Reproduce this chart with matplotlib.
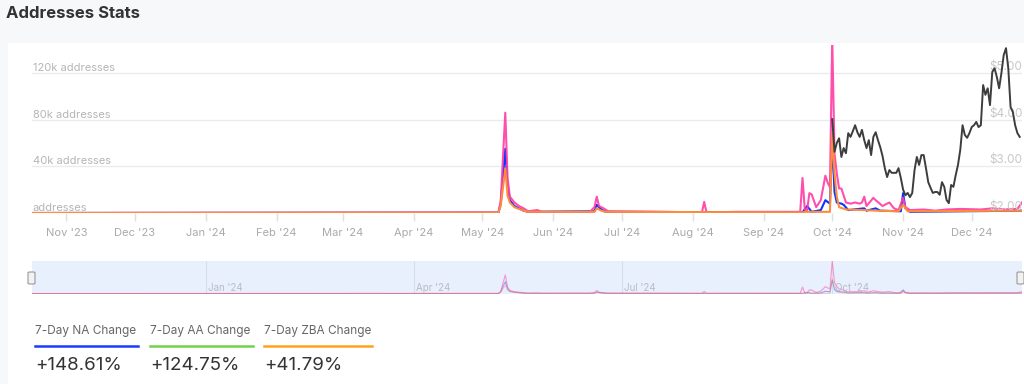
import numpy as np
import pandas as pd
import matplotlib
matplotlib.use('Agg')
import matplotlib.pyplot as plt
import matplotlib.dates as mdates
from matplotlib.patches import FancyBboxPatch

plt.rcParams['font.family'] = ['Inter', 'DejaVu Sans']

# address series (k addresses), vertices
aa_dates = ['2023-10-17', '2024-05-08', '2024-05-09', '2024-05-11', '2024-05-12', '2024-05-13',
            '2024-05-15', '2024-05-17', '2024-05-19', '2024-05-21', '2024-05-25', '2024-05-27',
            '2024-06-17', '2024-06-19', '2024-06-20', '2024-06-21', '2024-06-23', '2024-06-25',
            '2024-07-20', '2024-08-05', '2024-08-06', '2024-08-07', '2024-08-20', '2024-09-10',
            '2024-09-17', '2024-09-18', '2024-09-19', '2024-09-20', '2024-09-21', '2024-09-22',
            '2024-09-24', '2024-09-26', '2024-09-28', '2024-09-29', '2024-09-30', '2024-10-01',
            '2024-10-02', '2024-10-03', '2024-10-04', '2024-10-05', '2024-10-06', '2024-10-07',
            '2024-10-09', '2024-10-11', '2024-10-13', '2024-10-14', '2024-10-15', '2024-10-16',
            '2024-10-19', '2024-10-20', '2024-10-23', '2024-10-26', '2024-10-28', '2024-10-30',
            '2024-11-01', '2024-11-02', '2024-11-04', '2024-11-10', '2024-11-15', '2024-11-20',
            '2024-11-26', '2024-12-05', '2024-12-10', '2024-12-15', '2024-12-21', '2024-12-23']
aa_vals = [0, 0.5, 10, 86, 30, 14,
           9, 6, 4, 1.5, 2.5, 1,
           1, 5, 14, 6, 4, 1.5,
           1, 0.5, 9.5, 0.5, 1, 1,
           1, 30, 3, 2, 17, 16,
           5, 11, 32, 26, 22, 150,
           51, 34, 21, 21, 15, 9,
           8, 9, 8, 9, 14, 6,
           13, 11, 6, 9, 4, 2.5,
           13, 5, 2.5, 3, 2, 3,
           3.5, 3, 4, 3, 3.5, 9]

na_dates = ['2023-10-17', '2024-05-08', '2024-05-09', '2024-05-11', '2024-05-12', '2024-05-13',
            '2024-05-15', '2024-05-17', '2024-05-19', '2024-05-21', '2024-06-19', '2024-06-20',
            '2024-06-22', '2024-06-24', '2024-09-18', '2024-09-20', '2024-09-22', '2024-09-26',
            '2024-09-28', '2024-09-30', '2024-10-01', '2024-10-02', '2024-10-03', '2024-10-05',
            '2024-10-06', '2024-10-08', '2024-10-15', '2024-10-16', '2024-10-20', '2024-10-22',
            '2024-10-31', '2024-11-01', '2024-11-02', '2024-11-04', '2024-12-23']
na_vals = [0, 0.3, 8, 55, 22, 11,
           6, 4, 2, 1, 1.5, 7,
           3, 1, 0.5, 6, 1, 2.5,
           11, 8, 62, 18, 9, 8,
           7, 2.5, 4, 2, 4, 2,
           1.5, 17, 4, 1, 2]

zba_dates = ['2023-10-17', '2024-05-08', '2024-05-09', '2024-05-11', '2024-05-12', '2024-05-13',
             '2024-05-15', '2024-05-17', '2024-05-19', '2024-05-21', '2024-06-19', '2024-06-20',
             '2024-06-22', '2024-06-24', '2024-09-18', '2024-09-19', '2024-09-30', '2024-10-01',
             '2024-10-02', '2024-10-03', '2024-10-04', '2024-10-07', '2024-10-15', '2024-10-20',
             '2024-10-30', '2024-11-01', '2024-11-03', '2024-12-23']
zba_vals = [0, 0.3, 6, 38, 15, 9,
            5, 3.5, 2, 1, 1, 4,
            2, 1, 0.5, 1, 1, 68,
            34, 14, 5, 3, 2.5, 2,
            1.5, 7, 1.5, 2]

# token price (USD), daily from 2024-10-01
price_start = '2024-10-01'
price = [4.01, 3.31, 3.50, 3.60, 3.20, 3.39, 3.28, 3.71, 3.63, 3.75,
         3.88, 3.73, 3.63, 3.78, 3.56, 3.39, 3.56, 3.24, 3.63, 3.73,
         3.56, 3.41, 3.22, 2.96, 2.77, 2.92, 2.86, 2.86, 2.86, 2.96,
         2.75, 2.50, 2.38, 2.43, 2.34, 2.43, 2.92, 3.20, 3.03, 3.24,
         3.24, 2.96, 2.66, 2.54, 2.43, 2.45, 2.45, 2.39, 2.66, 2.56,
         2.28, 2.21, 2.60, 2.56, 2.81, 3.03, 3.35, 3.88, 3.67, 3.61,
         3.71, 3.84, 3.88, 3.95, 3.84, 3.88, 4.74, 4.53, 4.67, 4.31,
         5.02, 5.10, 4.91, 4.67, 5.00, 5.38, 5.53, 5.10, 4.27, 4.16,
         3.88, 3.71, 3.63]

y_ticks = [0, 40000, 80000, 120000]
y_labels = ['addresses', '40k addresses', '80k addresses', '120k addresses']
price_ticks = [2, 3, 4, 5]
price_labels = ['$2.00', '$3.00', '$4.00', '$5.00']
legend_names = ['7-Day NA Change', '7-Day AA Change', '7-Day ZBA Change']
legend_values = ['+148.61%', '+124.75%', '+41.79%']
legend_colors = ['#1a3cff', '#6fd34a', '#ffa11a']

PINK = '#ff3fa6'
BLUE = '#0a35ff'
ORANGE = '#ff8c3a'

x0 = pd.Timestamp('2023-10-17')
x1 = pd.Timestamp('2024-12-23')

W, H = 1024, 384
fig = plt.figure(figsize=(W / 100, H / 100), dpi=100)
fig.patch.set_facecolor('#f7f8fa')

# white card as a background axes
card = fig.add_axes([8 / W, 0, 1 - 8 / W, 1 - 43 / H], zorder=-10)
card.set_facecolor('white')
card.set_xticks([])
card.set_yticks([])
for s in card.spines.values():
    s.set_visible(False)

fig.text(6 / W, 1 - 14 / H, 'Addresses Stats', fontsize=12, fontweight='bold',
         color='#333333', va='center', ha='left')

# main chart
ax = fig.add_axes([32 / W, 171 / H, 990 / W, 168 / H])
ax.set_facecolor('none')
ax.set_xlim(x0, x1)
ax.set_ylim(0, 144000)
for s in ax.spines.values():
    s.set_visible(False)
for v, lab in zip(y_ticks, y_labels):
    ax.axhline(v, color='#ebebeb', lw=1, zorder=1)
    ax.text(0.001, v, lab, transform=ax.get_yaxis_transform(), fontsize=8,
            color='#b5b5b5', va='bottom', ha='left')
ax.set_yticks([])
ax.xaxis.set_major_locator(mdates.MonthLocator(bymonthday=1))
ax.xaxis.set_major_formatter(mdates.DateFormatter("%b '%y"))
ax.tick_params(axis='x', colors='#e0e0e0', labelcolor='#aaaaaa', labelsize=8,
               length=6, width=1, pad=5)

# blue under pink, orange on top
ax.plot(pd.to_datetime(na_dates), np.array(na_vals) * 1000, color=BLUE, lw=1.5, zorder=3)
ax.plot(pd.to_datetime(aa_dates), np.array(aa_vals) * 1000, color=PINK, lw=1.5, alpha=0.92, zorder=4)
ax.plot(pd.to_datetime(zba_dates), np.array(zba_vals) * 1000, color=ORANGE, lw=1.5, zorder=5)

axp = ax.twinx()
axp.set_ylim(2, 2 + 168 / 46.7)
axp.set_xlim(x0, x1)
for s in axp.spines.values():
    s.set_visible(False)
axp.set_yticks([])
for v, lab in zip(price_ticks, price_labels):
    axp.text(0.967, v, lab, transform=axp.get_yaxis_transform(), fontsize=8.5,
             color='#c8c8c8', va='bottom', ha='left', zorder=1)
price_dates = pd.date_range(price_start, periods=len(price), freq='D')
axp.plot(price_dates, price, color='#3d3d3d', lw=1.4, zorder=6)

# navigator
nav = fig.add_axes([32 / W, 90 / H, 990 / W, 33 / H])
nav.set_facecolor('#e8effd')
nav.set_xlim(x0, x1)
nav.set_ylim(-2000, 150000)
for s in nav.spines.values():
    s.set_visible(False)
nav.set_yticks([])
nav.set_xticks([])
for d in ['2024-01-01', '2024-04-01', '2024-07-01', '2024-10-01']:
    t = pd.Timestamp(d)
    nav.axvline(t, color='#d6deec', lw=0.8)
    nav.text(t + pd.Timedelta(days=1), 0.08, t.strftime("%b '%y"),
             transform=nav.get_xaxis_transform(), fontsize=7, color='#b8bcc6')
nav.plot(pd.to_datetime(na_dates), np.array(na_vals) * 1000, color=BLUE, lw=0.8, alpha=0.4)
nav.plot(pd.to_datetime(aa_dates), np.array(aa_vals) * 1000, color=PINK, lw=0.8, alpha=0.5)
nav.plot(pd.to_datetime(zba_dates), np.array(zba_vals) * 1000, color=ORANGE, lw=0.8, alpha=0.4)

for hx in [28, 1017]:
    fig.patches.append(FancyBboxPatch((hx / W, 1 - 284 / H), 7 / W, 12 / H,
                                      boxstyle='round,pad=0,rounding_size=0.002',
                                      transform=fig.transFigure, facecolor='#f2f2f2',
                                      edgecolor='#999999', lw=0.8, zorder=5))

# legend blocks
for i, (name, val, col) in enumerate(zip(legend_names, legend_values, legend_colors)):
    lx = [35, 150, 264][i]
    fig.text(lx / W, 1 - 331 / H, name, fontsize=8.5, color='#666666', va='center', ha='left')
    fig.lines.append(plt.Line2D([lx / W, (lx + [103, 103, 108][i]) / W],
                                [1 - 346 / H, 1 - 346 / H], transform=fig.transFigure,
                                color=col, lw=1.8))
    fig.text(lx / W, 1 - 366 / H, val, fontsize=13.5, color='#333333', va='center', ha='left')

fig.savefig('out.png', dpi=100, facecolor=fig.get_facecolor())
